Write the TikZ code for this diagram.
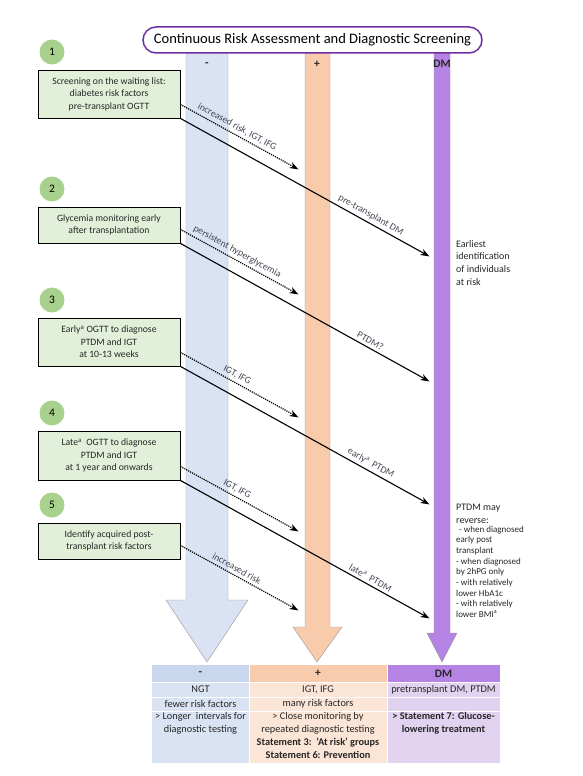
\documentclass[tikz,border=0pt]{standalone}
\usepackage{fontspec}
\setmainfont{Carlito}
\usetikzlibrary{arrows.meta,positioning}
\definecolor{stepgreen}{RGB}{169,209,142}
\definecolor{boxgreen}{RGB}{226,240,217}
\definecolor{titlepurple}{RGB}{112,48,160}
\definecolor{negblue}{RGB}{218,227,243}
\definecolor{neghead}{RGB}{200,214,238}
\definecolor{posorange}{RGB}{248,203,173}
\definecolor{poslight}{RGB}{251,229,214}
\definecolor{dmpurple}{RGB}{181,131,228}
\definecolor{dmlight}{RGB}{225,211,240}
\definecolor{labelgray}{RGB}{70,70,85}
\definecolor{edgegray}{RGB}{150,150,150}
\tikzset{
  stepbox/.style={draw, line width=0.8pt, fill=boxgreen, minimum width=142pt, align=center,
    text=black!85, font=\fontsize{9.7}{12.5}\selectfont, inner sep=2pt},
  stepnum/.style={circle, fill=stepgreen, minimum size=25pt, inner sep=0pt, font=\fontsize{11.5}{13}\selectfont},
  riskline/.style={line width=1.1pt, -{Stealth[length=9pt,width=6.5pt]}},
  riskdots/.style={line width=1.2pt, densely dotted, -{Stealth[length=9pt,width=6.5pt]}},
  linelabel/.style={sloped, above, text=labelgray, font=\fontsize{9.7}{11}\selectfont, inner sep=3pt},
  sidetext/.style={align=left, inner sep=0pt, text=black!85, font=\fontsize{10}{12.7}\selectfont},
  sidesmall/.style={align=left, inner sep=0pt, text=black!85, font=\fontsize{9}{10.7}\selectfont},
  cell/.style={align=center, inner sep=0pt, text=black!85, font=\fontsize{10.3}{13}\selectfont},
  cellhead/.style={cell, font=\fontsize{11.5}{13}\selectfont\bfseries},
}
\begin{document}
\begin{tikzpicture}[x=1pt,y=-1pt]
\useasboundingbox (0,0) rectangle (582,776);
% Columns
\draw[edgegray, fill=negblue] (186,53) -- (228,53) -- (228,600) -- (248,600) -- (207,662)
  -- (166,600) -- (186,600) -- cycle;
\draw[edgegray, fill=posorange] (305,53) -- (330,53) -- (330,627) -- (342,627) -- (317,662)
  -- (293,627) -- (305,627) -- cycle;
\draw[edgegray, fill=dmpurple] (434,53) -- (450,53) -- (450,633) -- (457,633) -- (442,662)
  -- (427,633) -- (434,633) -- cycle;
% Title
\node[draw=titlepurple, line width=1.5pt, rounded corners=13pt, fill=white, minimum width=339pt,
  minimum height=26pt, font=\fontsize{14.5}{16}\selectfont] (title) at (312.5,40)
  {Continuous Risk Assessment and Diagnostic Screening};
\node[cellhead] (minus) at (207,65) {-};
\node[cellhead] (plus) at (317,64) {+};
\node[cellhead] (dm) at (442,64) {DM};
% Steps
\foreach \n/\y/\h/\txt in {
    1/94/48/{Screening on the waiting list:\\diabetes risk factors\\pre-transplant OGTT},
    2/225/36/{Glycemia monitoring early\\after transplantation},
    3/342/48/{Early\textsuperscript{a} OGTT to diagnose\\PTDM and IGT\\at 10-13 weeks},
    4/455.5/49/{Late\textsuperscript{a}\ \ OGTT to diagnose\\PTDM and IGT\\at 1 year and onwards},
    5/541/36/{Identify acquired post-\\transplant risk factors}} {
  \node[stepbox, minimum height=\h pt] (box\n) at (109,\y) {\txt};
  \node[stepnum] (num\n) at (52,{\y-0.5*\h-18}) {\n};
}
% Dotted arrows
\foreach \n/\txt in {1/{increased risk, IGT, IFG}, 2/persistent hyperglycemia, 3/{IGT, IFG},
    4/{IGT, IFG}, 5/increased risk} {
  \coordinate (dotend\n) at ([shift={(118,51)}]box\n.south east);
  \draw[riskdots] ([yshift=14pt]box\n.south east) -- node[linelabel, pos=0.45] {\txt} (dotend\n);
}
% Solid arrows
\foreach \n/\txt in {1/pre-transplant DM, 2/PTDM?, 3/{early\textsuperscript{a}\ \ PTDM},
    4/{late\textsuperscript{a}\ \ PTDM}} {
  \coordinate (solidend\n) at ([shift={(249,138)}]box\n.south east);
  \draw[riskline] (box\n.south east) -- node[linelabel, pos=0.75] {\txt} (solidend\n);
}
% Notes
\node[sidetext, anchor=north west] (earliest) at (456,240)
  {Earliest\\identification\\of individuals\\at risk};
\node[sidetext, anchor=north west] (reverse) at (456,504) {PTDM may\\reverse:};
\node[sidesmall, below=2pt of reverse.south west, anchor=north west] (reasons)
  {\hspace{3pt}- when diagnosed\\early post\\transplant\\- when diagnosed\\by 2hPG only\\
   - with relatively\\lower HbA1c\\- with relatively\\lower BMI\textsuperscript{a}};
% Table
\foreach \xa/\xb/\hd/\bd in {152/249/neghead/negblue, 249/387/posorange/poslight,
    387/500/dmpurple/dmlight} {
  \fill[\hd] (\xa,665) rectangle (\xb,682);
  \fill[\bd] (\xa,682) rectangle (\xb,763);
}
\foreach \y in {682,697,711} \draw[white, line width=1pt] (152,\y) -- (500,\y);
\foreach \x in {249,387} \draw[white, line width=1pt] (\x,665) -- (\x,763);
\node[cellhead] (negtop) at (200.5,673.5) {-};
\node[cellhead] (postop) at (318,673.5) {+};
\node[cellhead] (dmtop) at (443.5,673.5) {DM};
\node[cell] (negtest) at (200.5,689.5) {NGT};
\node[cell] (postest) at (318,689.5) {IGT, IFG};
\node[cell] (dmtest) at (443.5,689.5) {pretransplant DM, PTDM};
\node[cell] (negrisk) at (200.5,704) {fewer risk factors};
\node[cell] (posrisk) at (318,704) {many risk factors};
\node[cell, anchor=north] (negplan) at (200.5,712) {> Longer\ \ intervals for\\diagnostic testing};
\node[cell, anchor=north] (posplan) at (318,712) {> Close monitoring by\\repeated diagnostic testing\\
  \textbf{Statement 3:\ \ `At risk' groups}\\\textbf{Statement 6: Prevention}};
\node[cell, anchor=north, font=\fontsize{10.3}{13}\selectfont\bfseries] (dmplan) at (443.5,712)
  {> Statement 7: Glucose-\\lowering treatment};
\end{tikzpicture}
\end{document}
